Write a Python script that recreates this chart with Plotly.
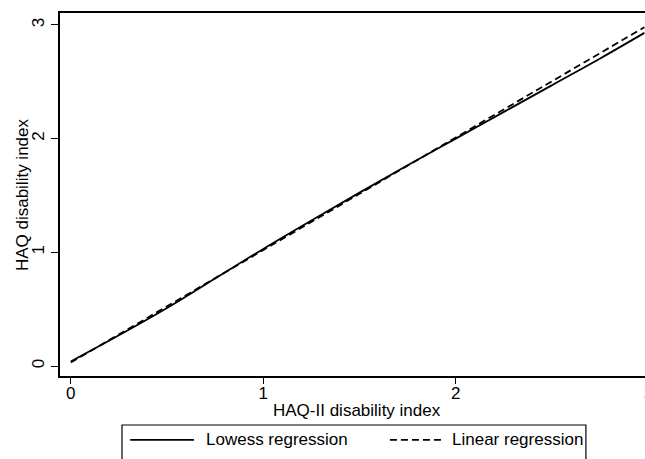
import plotly.graph_objects as go

# Data
lowess_x = [0.0, 0.25, 0.5, 0.75, 1.0, 1.25, 1.5, 1.75, 2.0, 2.25, 2.5, 2.75, 2.98]
lowess_y = [0.04, 0.27, 0.51, 0.77, 1.03, 1.28, 1.525, 1.765, 2.0, 2.235, 2.47, 2.705, 2.93]
linear_x = [0.0, 2.98]
linear_y = [0.03, 2.98]

x_ticks = [0, 1, 2, 3]
y_ticks = [0, 1, 2, 3]
x_title = "HAQ-II disability index"
y_title = "HAQ disability index"
legend_labels = ["Lowess regression", "Linear regression"]

FONT = "Liberation Sans, Arial, Helvetica, sans-serif"
FS = 17
X_RANGE = [-0.056, 2.983]
Y_RANGE = [-0.088, 3.105]
LW = 1.8

fig = go.Figure()
fig.add_trace(go.Scatter(x=lowess_x, y=lowess_y, mode="lines", name=legend_labels[0],
                         line=dict(color="black", width=LW, shape="spline"),
                         showlegend=False))
fig.add_trace(go.Scatter(x=linear_x, y=linear_y, mode="lines", name=legend_labels[1],
                         line=dict(color="black", width=LW, dash="7px,4px"),
                         showlegend=False))

# manual legend box (Stata style)
fig.add_shape(type="rect", xref="paper", yref="paper",
              x0=0.106, x1=0.899, y0=-0.26, y1=-0.135,
              line=dict(color="black", width=1.2), fillcolor="white")
fig.add_shape(type="line", xref="paper", yref="paper",
              x0=0.120, x1=0.229, y0=-0.176, y1=-0.176,
              line=dict(color="black", width=LW))
fig.add_shape(type="line", xref="paper", yref="paper",
              x0=0.564, x1=0.655, y0=-0.176, y1=-0.176,
              line=dict(color="black", width=LW, dash="7px,4px"))
fig.add_annotation(xref="paper", yref="paper", x=0.247, y=-0.176,
                   text=legend_labels[0], showarrow=False,
                   xanchor="left", yanchor="middle",
                   font=dict(family=FONT, size=FS, color="black"))
fig.add_annotation(xref="paper", yref="paper", x=0.667, y=-0.176,
                   text=legend_labels[1], showarrow=False,
                   xanchor="left", yanchor="middle",
                   font=dict(family=FONT, size=FS, color="black"))

# axis titles placed as text annotations for exact positioning
fig.add_annotation(xref="paper", yref="paper", x=0.508, y=-0.0937,
                   text=x_title, showarrow=False,
                   xanchor="center", yanchor="middle",
                   font=dict(family=FONT, size=FS, color="black"))
fig.add_annotation(xref="paper", yref="paper", x=-0.065, y=0.501,
                   text=y_title, showarrow=False, textangle=-90,
                   xanchor="center", yanchor="middle",
                   font=dict(family=FONT, size=FS, color="black"))

# x tick "3" sits just past the visible edge of the plot area
x3_paper = (x_ticks[-1] - X_RANGE[0]) / (X_RANGE[1] - X_RANGE[0])
fig.add_annotation(xref="paper", yref="paper", x=x3_paper, y=0,
                   text=str(x_ticks[-1]), showarrow=False,
                   xanchor="center", yanchor="top", yshift=-7,
                   font=dict(family=FONT, size=FS, color="black"))

fig.update_layout(
    width=645, height=459,
    margin=dict(l=60, r=0, t=13, b=83, autoexpand=False),
    paper_bgcolor="white", plot_bgcolor="white",
    font=dict(family=FONT, size=FS, color="black"),
    showlegend=False,
)
fig.update_xaxes(
    range=X_RANGE, tickvals=x_ticks, ticktext=[str(v) for v in x_ticks],
    automargin=False,
    showgrid=False, zeroline=False,
    showline=True, linecolor="black", linewidth=1.5, mirror=True,
    ticks="outside", ticklen=6, tickwidth=1.2, tickcolor="black",
    ticklabelstandoff=-5,
)
fig.update_yaxes(
    range=Y_RANGE, tickvals=y_ticks, ticktext=[str(v) for v in y_ticks],
    automargin=False,
    showgrid=False, zeroline=False,
    showline=True, linecolor="black", linewidth=1.5, mirror=False,
    ticks="outside", ticklen=7, tickwidth=1.2, tickcolor="black",
    tickangle=-90, ticklabelstandoff=0,
)

fig.write_html("out.html",
               config={"displayModeBar": False},
               post_script="document.body.style.margin='0px';document.body.style.overflow='hidden';")
